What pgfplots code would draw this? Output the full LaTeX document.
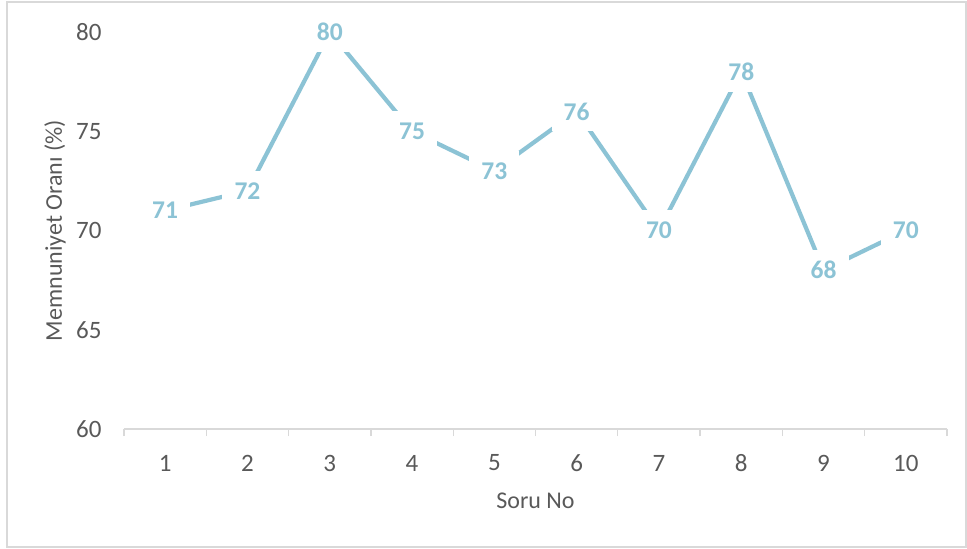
\documentclass[border=0pt]{standalone}
\usepackage{fontspec}
\setmainfont{Carlito}
\usepackage{pgfplots}
\pgfplotsset{compat=1.18}
\definecolor{seriesblue}{RGB}{140,195,213}
\definecolor{axisgray}{RGB}{217,217,217}
\definecolor{textgray}{RGB}{89,89,89}

\begin{document}
\begin{tikzpicture}[x=1pt,y=1pt]
\useasboundingbox (-124,-120) rectangle (843,429);
% outer chart frame
\draw[axisgray, line width=1.3pt] (-117,-118) rectangle (842,427);
\begin{axis}[
  at={(0,0)}, anchor=south west,
  scale only axis, width=823pt, height=397pt,
  xmin=0.5, xmax=10.5, ymin=60, ymax=80,
  clip=false,
  axis x line*=bottom, axis y line*=left,
  x axis line style={draw=axisgray, line width=1.3pt, -},
  y axis line style={draw=none},
  xtick={1,...,10},
  ytick={60,65,...,80},
  major tick length=0pt,
  minor xtick={0.5,1.5,...,10.5},
  minor tick length=7pt,
  tick align=outside,
  minor x tick style={draw=axisgray, line width=1.3pt},
  major tick style={draw=none},
  /pgf/number format/assume math mode=true,
  tick label style={font=\fontsize{25}{30}\selectfont, text=textgray},
  xticklabel style={anchor=center, yshift=-34pt},
  yticklabel style={anchor=east, xshift=-19pt},
  xlabel={Soru No},
  ylabel={Memnuniyet Oranı (\%)},
  label style={font=\fontsize{24}{28}\selectfont, text=textgray},
  xlabel style={at={(axis description cs:0.5,0)}, anchor=center, yshift=-72pt},
  ylabel style={at={(axis description cs:0,0.5)}, anchor=center, yshift=69pt},
]
\addplot[seriesblue, line width=4.2pt, mark=none,
  nodes near coords,
  every node near coord/.append style={anchor=center, fill=white,
    minimum width=50pt, minimum height=40pt, inner sep=0pt,
    font=\fontsize{25.5}{30}\selectfont\bfseries, text=seriesblue},
] coordinates {
  (1,71) (2,72) (3,80) (4,75) (5,73) (6,76) (7,70) (8,78) (9,68) (10,70)
};
\end{axis}
\end{tikzpicture}
\end{document}
